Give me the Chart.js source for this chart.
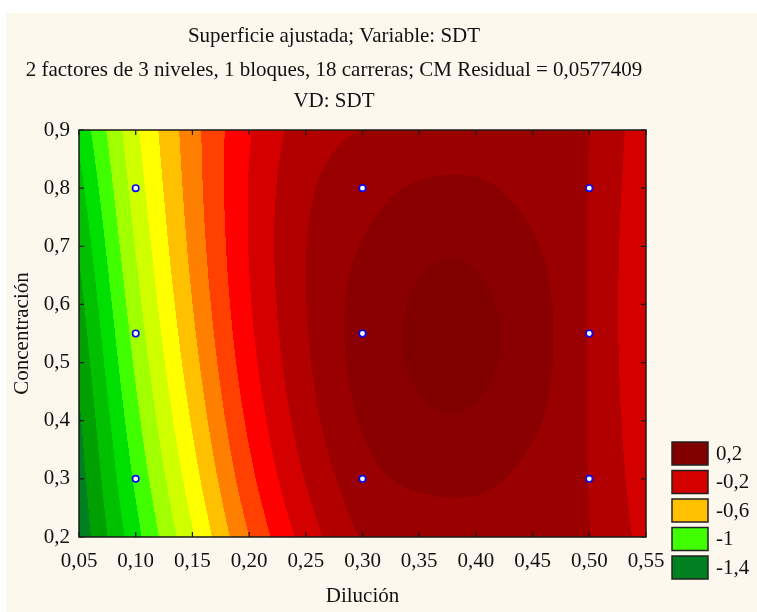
<!DOCTYPE html>
<html>
<head>
<meta charset="utf-8">
<script src="https://cdn.jsdelivr.net/npm/chart.js@4.4.1/dist/chart.umd.min.js"></script>
<style>
  html, body { margin: 0; padding: 0; background: #ffffff; }
  canvas { display: block; }
</style>
</head>
<body>
<canvas id="surfaceChart" width="757" height="612"></canvas>
<script>
// fitted SDT surface, read on a grid of Dilución x Concentración
const xGrid = [0.05, 0.10, 0.15, 0.20, 0.25, 0.30, 0.35, 0.40, 0.45, 0.50, 0.55]
const yGrid = [0.2, 0.3, 0.4, 0.5, 0.6, 0.7, 0.8, 0.9]

const sdt_02 = [-1.470, -1.135, -0.811, -0.500, -0.257, -0.093, -0.076, -0.071, -0.080, -0.098, -0.237]
const sdt_03 = [-1.445, -1.081, -0.745, -0.432, -0.194, -0.039, 0.020, 0.025, -0.033, -0.103, -0.260]
const sdt_04 = [-1.415, -1.030, -0.688, -0.378, -0.148, 0.010, 0.082, 0.087, 0.018, -0.106, -0.276]
const sdt_05 = [-1.378, -0.982, -0.640, -0.337, -0.117, 0.037, 0.112, 0.117, 0.048, -0.108, -0.287]
const sdt_06 = [-1.336, -0.937, -0.601, -0.310, -0.102, 0.036, 0.110, 0.115, 0.046, -0.108, -0.292]
const sdt_07 = [-1.288, -0.894, -0.571, -0.296, -0.102, 0.006, 0.078, 0.083, 0.013, -0.107, -0.291]
const sdt_08 = [-1.235, -0.855, -0.551, -0.295, -0.119, -0.044, 0.012, 0.017, -0.038, -0.104, -0.283]
const sdt_09 = [-1.175, -0.819, -0.539, -0.308, -0.151, -0.098, -0.087, -0.082, -0.084, -0.100, -0.270]
const surface = [sdt_02, sdt_03, sdt_04, sdt_05, sdt_06, sdt_07, sdt_08, sdt_09]

// design runs (3 x 3 levels)
const runX = [0.1, 0.3, 0.5, 0.1, 0.3, 0.5, 0.1, 0.3, 0.5]
const runY = [0.8, 0.8, 0.8, 0.55, 0.55, 0.55, 0.3, 0.3, 0.3]

// contour levels and the legend entries shown
const levels = [-1.5, -1.4, -1.3, -1.2, -1.1, -1.0, -0.9, -0.8, -0.7, -0.6, -0.5, -0.4, -0.3, -0.2, -0.1, 0, 0.1, 0.2]
const legendLevels = [0.2, -0.2, -0.6, -1, -1.4]

const bandColors = ['#00602e', '#008020', '#00a000', '#00c000', '#00e000', '#40ff00', '#a0ff00', '#d0ff00',
  '#ffff00', '#ffc000', '#ff8000', '#ff4000', '#ff0000', '#d40000', '#b20000', '#9a0000', '#8a0000', '#800000', '#780000']
const legendColors = ['#800000', '#d40000', '#ffc000', '#40ff00', '#008020']

const serif = '"Liberation Serif", "Times New Roman", serif'
const comma = v => String(v).replace('.', ',')

function hexRgb(h) {
  return [parseInt(h.slice(1, 3), 16), parseInt(h.slice(3, 5), 16), parseInt(h.slice(5, 7), 16)]
}
const bandRgb = bandColors.map(hexRgb)

// catmull-rom between grid values
function cr(p0, p1, p2, p3, t) {
  return p1 + 0.5 * t * (p2 - p0 + t * (2 * p0 - 5 * p1 + 4 * p2 - p3 + t * (3 * (p1 - p2) + p3 - p0)))
}
function at(arr, k) {
  const n = arr.length
  if (k < 0) return 2 * arr[0] - arr[1]
  if (k >= n) return 2 * arr[n - 1] - arr[n - 2]
  return arr[k]
}
function sample(arr, u) {
  let i = Math.floor(u)
  i = Math.max(0, Math.min(arr.length - 2, i))
  const t = u - i
  return cr(at(arr, i - 1), at(arr, i), at(arr, i + 1), at(arr, i + 2), t)
}
function surfaceAt(x, y) {
  const u = (x - xGrid[0]) / (xGrid[1] - xGrid[0])
  const v = (y - yGrid[0]) / (yGrid[1] - yGrid[0])
  const col = surface.map(row => sample(row, u))
  return sample(col, v)
}
function bandOf(z) {
  let k = 0
  while (k < levels.length && z > levels[k]) k++
  return k
}

const contourPlugin = {
  id: 'contour',
  beforeDraw(chart) {
    const ctx = chart.ctx
    ctx.save()
    ctx.fillStyle = '#fdf8ee'
    ctx.fillRect(6, 13, chart.width - 6, chart.height - 13)
    ctx.restore()
  },
  beforeDatasetsDraw(chart) {
    const { ctx, chartArea } = chart
    const xs = chart.scales.x, ys = chart.scales.y
    const w = Math.round(chartArea.right - chartArea.left)
    const h = Math.round(chartArea.bottom - chartArea.top)
    const off = document.createElement('canvas')
    off.width = w
    off.height = h
    const octx = off.getContext('2d')
    const img = octx.createImageData(w, h)
    for (let j = 0; j < h; j++) {
      const yv = ys.getValueForPixel(chartArea.top + j + 0.5)
      for (let i = 0; i < w; i++) {
        const xv = xs.getValueForPixel(chartArea.left + i + 0.5)
        const c = bandRgb[bandOf(surfaceAt(xv, yv))]
        const p = (j * w + i) * 4
        img.data[p] = c[0]
        img.data[p + 1] = c[1]
        img.data[p + 2] = c[2]
        img.data[p + 3] = 255
      }
    }
    octx.putImageData(img, 0, 0)
    ctx.drawImage(off, chartArea.left, chartArea.top, w, h)
  },
  afterDatasetsDraw(chart) {
    const { ctx, chartArea } = chart
    const xs = chart.scales.x, ys = chart.scales.y
    ctx.save()
    ctx.strokeStyle = '#1a1a1a'
    ctx.lineWidth = 1.5
    ctx.strokeRect(chartArea.left, chartArea.top, chartArea.right - chartArea.left, chartArea.bottom - chartArea.top)
    ctx.lineWidth = 1.2
    ctx.beginPath()
    xs.ticks.forEach(t => {
      const px = xs.getPixelForValue(t.value)
      ctx.moveTo(px, chartArea.bottom); ctx.lineTo(px, chartArea.bottom - 5)
      ctx.moveTo(px, chartArea.top); ctx.lineTo(px, chartArea.top + 5)
    })
    ys.ticks.forEach(t => {
      const py = ys.getPixelForValue(t.value)
      ctx.moveTo(chartArea.left, py); ctx.lineTo(chartArea.left + 5, py)
      ctx.moveTo(chartArea.right, py); ctx.lineTo(chartArea.right - 5, py)
    })
    ctx.stroke()
    ctx.restore()
  },
  afterDraw(chart) {
    const ctx = chart.ctx
    ctx.save()
    ctx.fillStyle = '#111111'
    ctx.font = '21px ' + serif
    ctx.textAlign = 'center'
    ctx.textBaseline = 'middle'
    ctx.fillText('Superficie ajustada; Variable: SDT', 334, 36)
    ctx.fillText('2 factores de 3 niveles, 1 bloques, 18 carreras; CM Residual = 0,0577409', 334, 70)
    ctx.fillText('VD: SDT', 334, 101)

    // legend boxes
    ctx.textAlign = 'left'
    legendLevels.forEach((lv, k) => {
      const top = 442 + k * 28.5
      ctx.fillStyle = legendColors[k]
      ctx.fillRect(672, top, 36, 23)
      ctx.strokeStyle = '#222222'
      ctx.lineWidth = 1.5
      ctx.strokeRect(672, top, 36, 23)
      ctx.fillStyle = '#111111'
      ctx.fillText(comma(lv), 716, top + 12)
    })
    ctx.restore()
  }
}

const runs = runX.map((x, k) => ({ x: x, y: runY[k] }))

new Chart(document.getElementById('surfaceChart'), {
  type: 'scatter',
  data: {
    datasets: [{
      label: 'Carreras',
      data: runs,
      pointRadius: 3.2,
      pointBackgroundColor: '#ffffff',
      pointBorderColor: '#0000ff',
      pointBorderWidth: 1.6
    }]
  },
  options: {
    responsive: false,
    animation: false,
    devicePixelRatio: 1,
    layout: { padding: { top: 130, right: 111, left: 0, bottom: 0 } },
    plugins: {
      legend: { display: false },
      title: { display: false },
      tooltip: { enabled: false }
    },
    scales: {
      x: {
        type: 'linear',
        min: 0.05,
        max: 0.55,
        grid: { display: false, drawTicks: false },
        border: { display: false },
        ticks: {
          stepSize: 0.05,
          padding: 12,
          color: '#111111',
          font: { family: serif, size: 21 },
          maxRotation: 0,
          callback: v => v.toFixed(2).replace('.', ',')
        },
        title: {
          display: true,
          text: 'Dilución',
          color: '#111111',
          font: { family: serif, size: 21 },
          padding: { top: 0, bottom: 3 }
        },
        afterFit: s => { s.height = 75 }
      },
      y: {
        type: 'linear',
        min: 0.2,
        max: 0.9,
        grid: { display: false, drawTicks: false },
        border: { display: false },
        ticks: {
          stepSize: 0.1,
          padding: 9,
          color: '#111111',
          font: { family: serif, size: 21 },
          callback: v => v.toFixed(1).replace('.', ',')
        },
        title: {
          display: true,
          text: 'Concentración',
          color: '#111111',
          font: { family: serif, size: 21 },
          padding: { top: 10, bottom: 0 }
        },
        afterFit: s => { s.width = 79 }
      }
    }
  },
  plugins: [contourPlugin]
})
</script>
</body>
</html>
